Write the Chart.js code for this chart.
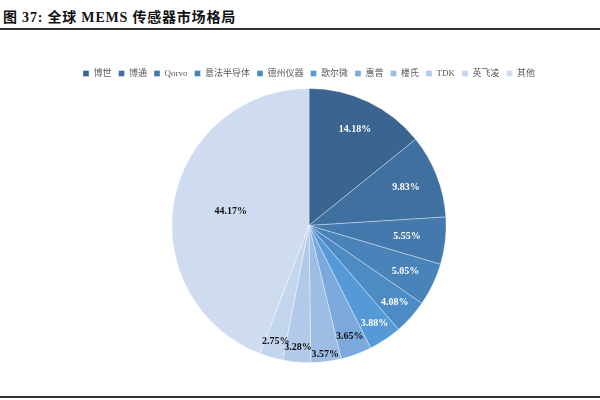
<!DOCTYPE html>
<html>
<head>
<meta charset="utf-8">
<script src="https://cdn.jsdelivr.net/npm/chart.js@4"></script>
<style>
  html, body { margin: 0; padding: 0; background: #fff; }
  #page { position: relative; width: 600px; height: 400px; overflow: hidden; }
  #title {
    position: absolute; left: 3px; top: 6px;
    font-family: "Liberation Serif", "Noto Sans CJK SC", serif;
    font-weight: bold; font-size: 14px; color: #111; letter-spacing: 0.8px;
  }
  #rule-top { position: absolute; left: 0; top: 28px; width: 600px; height: 2px; background: #333; }
  #rule-bottom { position: absolute; left: 0; top: 396px; width: 600px; height: 2px; background: #333; }
  #wrap { position: absolute; left: 0; top: 50px; width: 600px; height: 335px; }
</style>
</head>
<body>
<div id="page">
  <div id="title">图 37: 全球 MEMS 传感器市场格局</div>
  <div id="rule-top"></div>
  <div id="wrap"><canvas id="chartjs-pie"></canvas></div>
  <div id="rule-bottom"></div>
</div>
<script>
// market share data (%)
const companies = ["博世", "博通", "Qorvo", "意法半导体", "德州仪器", "歌尔微", "惠普", "楼氏", "TDK", "英飞凌", "其他"];
const shares = [14.18, 9.83, 5.55, 5.05, 4.08, 3.88, 3.65, 3.57, 3.28, 2.75, 44.17];

const sliceColors = [
    "#3b6590", "#3f70a0", "#4479ae", "#4a82ba", "#4d8bc4", "#5599d6",
    "#7ba9dc", "#9dbde4", "#b2c9e9", "#c4d5ee", "#cfdcf0"
];
const labelColors = ["#fff", "#fff", "#fff", "#fff", "#fff", "#fff", "#111", "#111", "#111", "#111", "#111"];
// radial position of each label as a fraction of the radius
const labelRadius = [0.78, 0.76, 0.72, 0.78, 0.84, 0.86, 0.86, 0.95, 0.89, 0.88, 0.58];

const pctLabels = {
    id: "pctLabels",
    afterDatasetsDraw(chart) {
        const ctx = chart.ctx;
        const arcs = chart.getDatasetMeta(0).data;
        ctx.save();
        ctx.font = "bold 10px 'Liberation Serif', serif";
        ctx.textAlign = "center";
        ctx.textBaseline = "middle";
        arcs.forEach((arc, i) => {
            const mid = (arc.startAngle + arc.endAngle) / 2;
            const r = arc.outerRadius * labelRadius[i];
            ctx.fillStyle = labelColors[i];
            ctx.fillText(shares[i].toFixed(2) + "%", arc.x + Math.cos(mid) * r, arc.y + Math.sin(mid) * r);
        });
        ctx.restore();
    }
};

new Chart(document.getElementById("chartjs-pie"), {
    type: "pie",
    data: {
        labels: companies,
        datasets: [{
            data: shares,
            backgroundColor: sliceColors,
            borderColor: "rgba(255,255,255,0.45)",
            borderWidth: 0.8
        }]
    },
    options: {
        responsive: true,
        maintainAspectRatio: false,
        animation: false,
        layout: {
            padding: { top: 12, bottom: 22, left: 18, right: 0 }
        },
        plugins: {
            legend: {
                display: true,
                position: "top",
                labels: {
                    boxWidth: 6,
                    boxHeight: 6,
                    padding: 7,
                    color: "#595959",
                    font: { size: 9, family: "'Liberation Serif', 'Noto Sans CJK SC', serif" }
                }
            },
            tooltip: { enabled: false }
        }
    },
    plugins: [pctLabels]
});
</script>
</body>
</html>
